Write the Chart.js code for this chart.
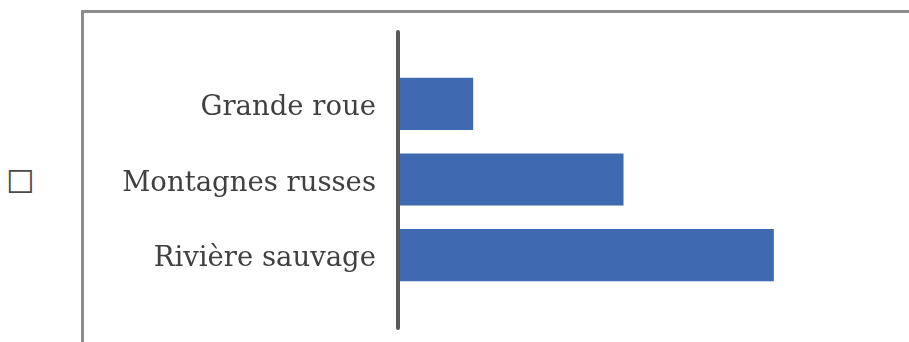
<!DOCTYPE html>
<html lang="fr">
<head>
<meta charset="utf-8">
<title>Attractions</title>
<script src="https://cdn.jsdelivr.net/npm/chart.js@4/dist/chart.umd.min.js"></script>
<style>
	html, body { margin: 0; padding: 0; background: #fff; overflow: hidden; }
	.cadre { position: absolute; left: 81px; top: 10px; width: 900px; height: 400px; border: 3px solid #8c8c8c; box-sizing: border-box; }
	.case { position: absolute; left: 6px; top: 163px; font: 32px "DejaVu Sans"; color: #4a4a4a; }
	#graphique { position: absolute; left: 0; top: 0; }
</style>
</head>
<body>
<div class="cadre"></div>
<div class="case">☐</div>
<canvas id="graphique" width="909" height="342"></canvas>
<script>
const attractions = ["Grande roue", "Montagnes russes", "Rivière sauvage"];
const valeurs = [1, 3, 5];

// trait vertical de l'axe, plus long que la zone des barres
const axeVertical = {
	id: "axeVertical",
	afterDatasetsDraw(chart) {
		const ctx = chart.ctx;
		const x = chart.scales.x.getPixelForValue(0);
		ctx.save();
		ctx.strokeStyle = "#595959";
		ctx.lineWidth = 4;
		ctx.lineCap = "round";
		ctx.beginPath();
		ctx.moveTo(x, 32);
		ctx.lineTo(x, 328);
		ctx.stroke();
		ctx.restore();
	}
};

const data = {
	labels: attractions,
	datasets: [{
		data: valeurs,
		backgroundColor: "#3f69b1",
		categoryPercentage: 0.69,
		barPercentage: 1,
	}],
};

const config = {
	type: "bar",
	data: data,
	options: {
		indexAxis: "y",
		responsive: false,
		animation: false,
		layout: { padding: { top: 66, bottom: 49, right: 60, left: 0 } },
		plugins: { legend: { display: false }, tooltip: { enabled: false } },
		scales: {
			x: {
				min: 0,
				max: 6,
				display: false,
			},
			y: {
				grid: { display: false, drawTicks: false },
				border: { display: false },
				ticks: {
					color: "#404040",
					padding: 22,
					labelOffset: 4,
					font: { family: "DejaVu Serif", size: 27.5 },
				},
				afterFit: function (scale) { scale.width = 398; },
			},
		},
	},
	plugins: [axeVertical],
};

new Chart(document.querySelector("#graphique"), config);
</script>
</body>
</html>
